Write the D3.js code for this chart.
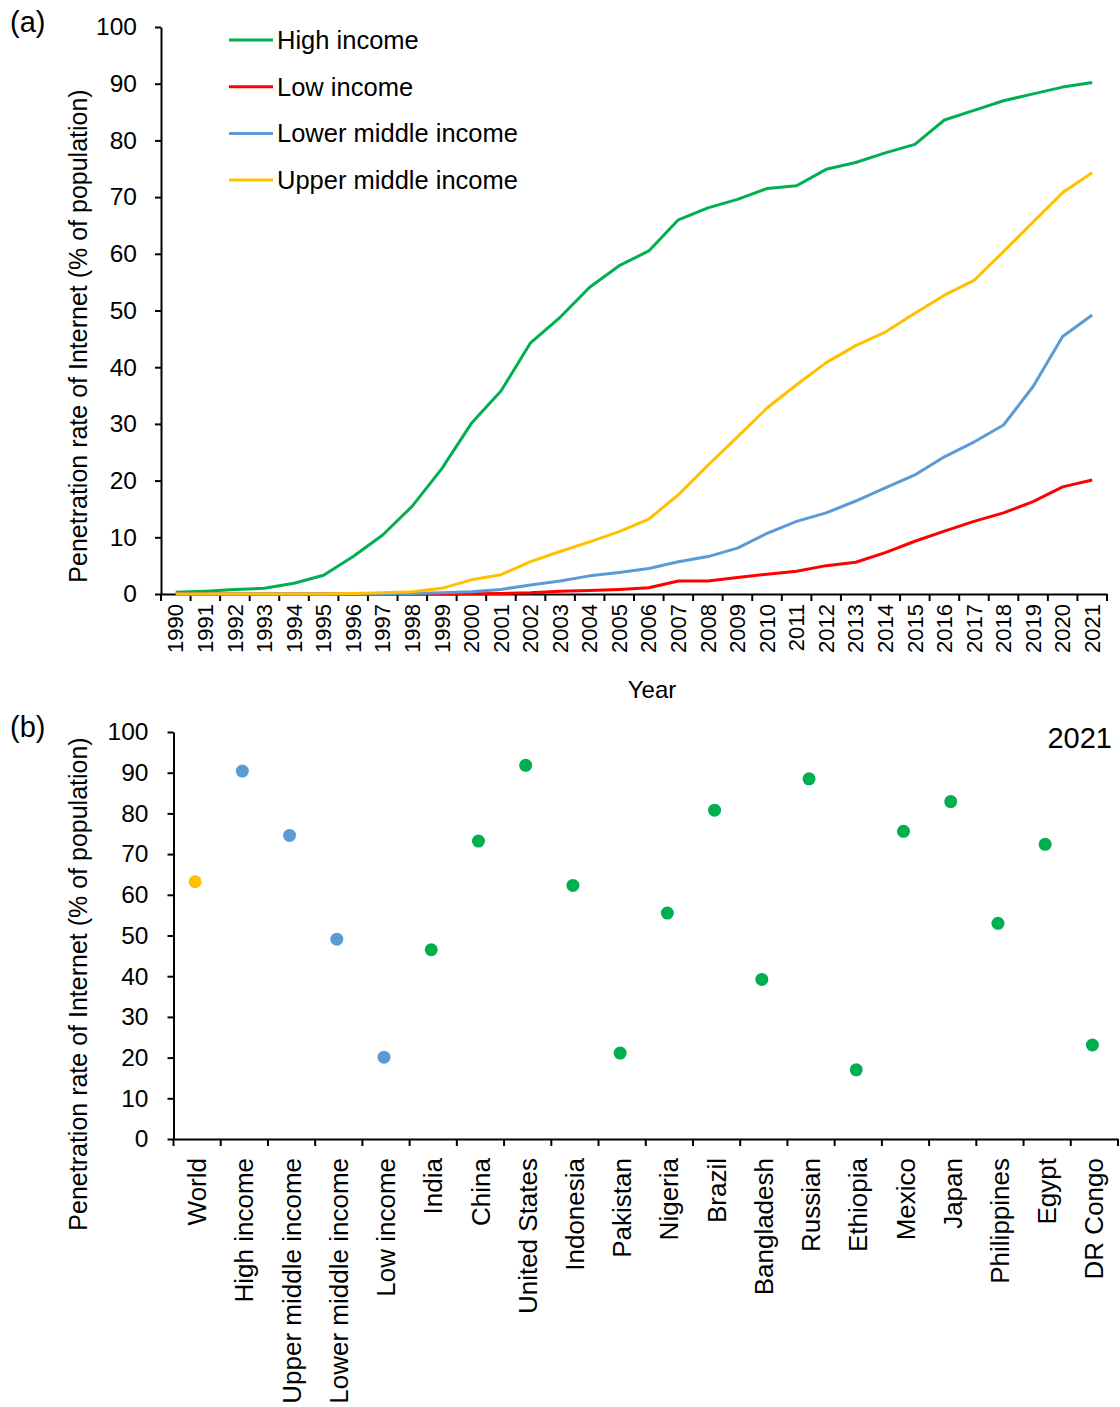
<!DOCTYPE html>
<html>
<head>
<meta charset="utf-8">
<title></title>
<script src="https://d3js.org/d3.v7.min.js"></script>
<style>
  body{margin:0;background:#fff;}
  text{font-family:"Liberation Sans", Arial, sans-serif;fill:#000;}
  .axis path, .axis line{stroke:#000;stroke-width:2;}
  .axis text{font-size:24.5px;}
</style>
</head>
<body>
<svg width="1120" height="1407"></svg>
<script>
// panel (a) : penetration by income group, 1990-2021
var years = ["1990","1991","1992","1993","1994","1995","1996","1997","1998","1999","2000",
  "2001","2002","2003","2004","2005","2006","2007","2008","2009","2010",
  "2011","2012","2013","2014","2015","2016","2017","2018","2019","2020","2021"];
var highIncome = [0.3,0.5,0.8,1.0,1.9,3.3,6.6,10.4,15.5,22.1,30.1,35.8,44.3,48.8,54.1,57.9,
  60.5,66.0,68.1,69.6,71.5,72.0,74.9,76.1,77.8,79.3,83.6,85.3,87.0,88.2,89.4,90.2];
var lowIncome = [0,0,0,0,0,0,0,0,0,0,0.05,0.1,0.2,0.5,0.6,0.8,
  1.1,2.3,2.3,2.9,3.5,4.0,5.0,5.6,7.3,9.3,11.1,12.8,14.3,16.3,18.9,20.1];
var lowerMiddle = [0,0,0,0,0,0,0,0.05,0.1,0.2,0.4,0.8,1.6,2.3,3.2,3.8,
  4.5,5.7,6.6,8.1,10.7,12.8,14.3,16.4,18.7,21.0,24.2,26.8,29.8,36.6,45.4,49.2];
var upperMiddle = [0,0,0,0,0,0,0.1,0.2,0.4,1.0,2.5,3.4,5.7,7.5,9.2,11.0,
  13.2,17.5,22.7,27.7,32.8,36.9,40.8,43.8,46.2,49.5,52.7,55.3,60.4,65.6,70.8,74.3];
var seriesNames = ["High income","Low income","Lower middle income","Upper middle income"];
var seriesColors = ["#00B050","#FF0000","#5B9BD5","#FFC000"];
var yTicks = [0,10,20,30,40,50,60,70,80,90,100];

// panel (b) : 2021 snapshot
var places = ["World","High income","Upper middle income","Lower middle income","Low income",
  "India","China","United States","Indonesia","Pakistan","Nigeria","Brazil","Bangladesh",
  "Russian","Ethiopia","Mexico","Japan","Philippines","Egypt","DR Congo"];
var rate2021 = [63.2,90.4,74.6,49.1,20.1,46.5,73.2,91.8,62.3,21.1,55.5,80.8,39.2,
  88.5,17.0,75.6,82.9,53.0,72.4,23.1];
var placeKind = ["world","income","income","income","income","country","country","country",
  "country","country","country","country","country","country","country","country",
  "country","country","country","country"];
var kindColor = {world:"#FFC000", income:"#5B9BD5", country:"#00B050"};

var svg = d3.select("svg");
var yTitle = "Penetration rate of Internet (% of population)";

// ---------- (a) ----------
var xa = d3.scaleBand().domain(years).range([161, 1107]).paddingInner(0).paddingOuter(0);
var ya = d3.scaleLinear().domain([0, 100]).range([594, 27]);

var gA = svg.append("g");

gA.append("g").attr("class", "axis")
  .attr("transform", "translate(161,0)")
  .call(d3.axisLeft(ya).tickValues(yTicks).tickSize(6).tickSizeOuter(0).tickPadding(18));

var xAxisA = gA.append("g").attr("class", "axis")
  .attr("transform", "translate(0,594)")
  .call(d3.axisBottom(xa).tickSize(0).tickSizeOuter(0));
xAxisA.selectAll("text")
  .attr("transform", "rotate(-90)")
  .attr("x", -10).attr("y", 0).attr("dy", "0.35em")
  .style("text-anchor", "end")
  .style("font-size", "22px");

// tick marks sit on the boundaries between years
var edgesA = years.map(function(d){ return xa(d); }).concat([xa.range()[1]]);
gA.selectAll(".edgeA").data(edgesA).enter().append("line")
  .attr("x1", function(d){ return d; }).attr("x2", function(d){ return d; })
  .attr("y1", 594).attr("y2", 601)
  .attr("stroke", "#000").attr("stroke-width", 2);

var line = d3.line()
  .x(function(d, i){ return xa(years[i]) + xa.bandwidth() / 2; })
  .y(function(d){ return ya(d); });

var seriesData = [highIncome, lowIncome, lowerMiddle, upperMiddle];
gA.selectAll(".series").data(seriesData).enter().append("path")
  .attr("d", line)
  .attr("fill", "none")
  .attr("stroke", function(d, i){ return seriesColors[i]; })
  .attr("stroke-width", 3)
  .attr("stroke-linejoin", "round");

var legend = gA.selectAll(".leg").data(seriesNames).enter().append("g")
  .attr("transform", function(d, i){ return "translate(229," + (40 + i * 46.7) + ")"; });
legend.append("line")
  .attr("x1", 0).attr("x2", 44).attr("y1", 0).attr("y2", 0)
  .attr("stroke", function(d, i){ return seriesColors[i]; })
  .attr("stroke-width", 3);
legend.append("text")
  .attr("x", 48).attr("dy", "0.35em")
  .style("font-size", "25.5px")
  .text(function(d){ return d; });

gA.append("text")
  .attr("transform", "translate(78,336) rotate(-90)")
  .attr("dy", "0.35em")
  .style("text-anchor", "middle").style("font-size", "25px")
  .text(yTitle);

gA.append("text")
  .attr("x", 652).attr("y", 698)
  .style("text-anchor", "middle").style("font-size", "24px")
  .text("Year");

gA.append("text")
  .attr("x", 10).attr("y", 32)
  .style("font-size", "29px")
  .text("(a)");

// ---------- (b) ----------
var xb = d3.scaleBand().domain(places).range([173.5, 1118]).paddingInner(0).paddingOuter(0);
var yb = d3.scaleLinear().domain([0, 100]).range([1139, 732]);

var gB = svg.append("g");

gB.append("g").attr("class", "axis")
  .attr("transform", "translate(173.5,0)")
  .call(d3.axisLeft(yb).tickValues(yTicks).tickSize(6).tickSizeOuter(0).tickPadding(19));

var xAxisB = gB.append("g").attr("class", "axis")
  .attr("transform", "translate(0,1139)")
  .call(d3.axisBottom(xb).tickSize(0).tickSizeOuter(0));
xAxisB.selectAll("text")
  .attr("transform", "rotate(-90)")
  .attr("x", -19).attr("y", 0).attr("dy", "0.35em")
  .style("text-anchor", "end")
  .style("font-size", "26px");

var edgesB = places.map(function(d){ return xb(d); }).concat([xb.range()[1]]);
gB.selectAll(".edgeB").data(edgesB).enter().append("line")
  .attr("x1", function(d){ return d; }).attr("x2", function(d){ return d; })
  .attr("y1", 1139).attr("y2", 1146)
  .attr("stroke", "#000").attr("stroke-width", 2);

gB.selectAll(".dot").data(rate2021).enter().append("circle")
  .attr("cx", function(d, i){ return xb(places[i]) + xb.bandwidth() / 2 - 2; })
  .attr("cy", function(d){ return yb(d); })
  .attr("r", 6.5)
  .attr("fill", function(d, i){ return kindColor[placeKind[i]]; });

gB.append("text")
  .attr("transform", "translate(78,984) rotate(-90)")
  .attr("dy", "0.35em")
  .style("text-anchor", "middle").style("font-size", "25px")
  .text(yTitle);

gB.append("text")
  .attr("x", 1112).attr("y", 748)
  .style("text-anchor", "end").style("font-size", "29px")
  .text("2021");

gB.append("text")
  .attr("x", 10).attr("y", 737)
  .style("font-size", "29px")
  .text("(b)");
</script>
</body>
</html>
